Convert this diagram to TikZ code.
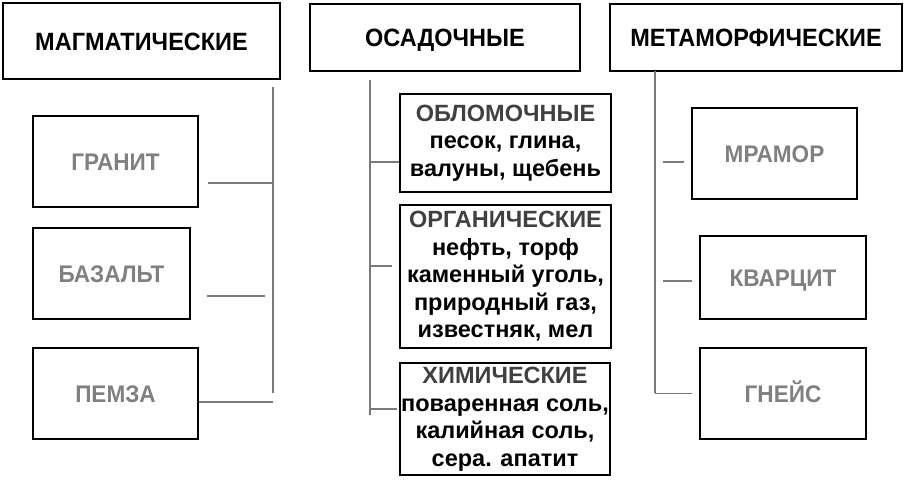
\documentclass[tikz,border=0pt]{standalone}
\usepackage{fontspec}
\setmainfont{Liberation Sans}
\newfontfamily\narrowsans[FakeStretch=0.94]{Liberation Sans}
\definecolor{rockgray}{HTML}{808080}
\definecolor{subgray}{HTML}{404040}
\definecolor{linkgray}{HTML}{7A7A7A}
\begin{document}
\begin{tikzpicture}[x=1pt,y=-1pt,
  box/.style={draw=black,line width=1.8pt,rectangle,inner sep=1pt,align=center},
  head/.style={box,text height=18pt,text depth=0pt,font=\narrowsans\fontsize{25}{30}\selectfont\bfseries},
  rock/.style={box,minimum width=165pt,minimum height=91pt,text=rockgray,text height=17.5pt,text depth=0pt,font=\narrowsans\fontsize{24}{28}\selectfont\bfseries},
  group/.style={box,minimum width=211pt,font=\fontsize{23.5}{27.5}\selectfont\bfseries},
  link/.style={draw=linkgray,line width=1.2pt}]
\fill[white] (0,0) rectangle (907,480);
\useasboundingbox (0,0) rectangle (907,480);
% top row
\node[head,minimum width=277pt,minimum height=76pt] (magm) at (141.5,41) {МАГМАТИЧЕСКИЕ};
\node[head,minimum width=270pt,minimum height=67pt] (osad) at (445,37.5) {ОСАДОЧНЫЕ};
\node[head,minimum width=292pt,minimum height=67pt] (meta) at (756,37.5) {МЕТАМОРФИЧЕСКИЕ};
% magmatic rocks
\node[rock] (granit) at (115.5,161.5) {ГРАНИТ};
\node[rock,minimum width=157pt] (bazalt) at (111.5,273.5) {БАЗАЛЬТ};
\node[rock] (pemza) at (115.5,393.5) {ПЕМЗА};
% sedimentary groups
\node[group,minimum height=98pt] (oblom) at (505.5,143)
  {{\color{subgray}ОБЛОМОЧНЫЕ}\\песок, глина,\\валуны, щебень};
\node[group,minimum height=143pt] (organ) at (505.5,276.5)
  {{\color{subgray}ОРГАНИЧЕСКИЕ}\\нефть, торф\\каменный уголь,\\природный газ,\\известняк, мел};
\node[group,minimum width=210pt,minimum height=112pt] (khim) at (505,419)
  {{\color{subgray}ХИМИЧЕСКИЕ}\\поваренная соль,\\калийная соль,\\сера. апатит};
% metamorphic rocks
\node[rock] (mramor) at (774.5,153.5) {МРАМОР};
\node[rock,minimum width=166pt,minimum height=83pt] (kvarc) at (783,277.5) {КВАРЦИТ};
\node[rock,minimum width=166pt] (gneis) at (783,393.5) {ГНЕЙС};
% trunks
\coordinate (ltop) at (273,87);
\coordinate (lbot) at (273,393);
\coordinate (mtop) at (370,80);
\coordinate (mbot) at (370,415);
\coordinate (rtop) at (655,71);
\coordinate (rbot) at (655,393);
\draw[link] (ltop) -- (lbot);
\draw[link] (mtop) -- (mbot);
\draw[link] (rtop) -- (rbot);
% stubs
\draw[link] ([xshift=9pt,yshift=-21.5pt]granit.east) coordinate (g1) -- (g1 -| ltop);
\draw[link] ([xshift=16pt,yshift=-22.5pt]bazalt.east) coordinate (b1) -- ([xshift=-8pt]b1 -| ltop);
\draw[link] ([yshift=-8.5pt]pemza.east) coordinate (p1) -- (p1 -| ltop);
\draw[link] ([yshift=-19pt]oblom.west) coordinate (o1) -- (o1 -| mtop);
\draw[link] ([xshift=-7pt,yshift=10.5pt]organ.west) coordinate (o2) -- (o2 -| mtop);
\draw[link] ([xshift=-2pt,yshift=10pt]khim.west) coordinate (h1) -- (h1 -| mtop);
\draw[link] ([xshift=-7pt,yshift=-8.5pt]mramor.west) coordinate (m1) -- ([xshift=8pt]m1 -| rtop);
\draw[link] ([xshift=-7pt,yshift=-3.5pt]kvarc.west) coordinate (k1) -- ([xshift=8pt]k1 -| rtop);
\draw[link] ([xshift=-7pt]gneis.west) coordinate (n1) -- (n1 -| rtop);
\end{tikzpicture}
\end{document}
